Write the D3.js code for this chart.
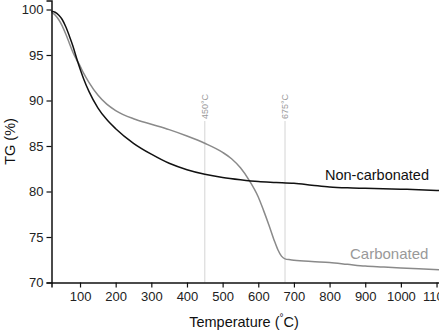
<!DOCTYPE html>
<html>
<head>
<meta charset="utf-8">
<script src="https://cdn.jsdelivr.net/npm/d3@7"></script>
<style>
	body { margin: 0; background: #fff; }
	svg { display: block; font-family: "Liberation Sans", Arial, sans-serif; }
</style>
</head>
<body>
<svg id="chart" width="439" height="332"></svg>
<script>
// temperatures (°C) and TG (%)
const nonCarbTemp = [20, 30, 40, 50, 60, 70, 80, 90, 100, 110, 125, 150, 175, 200, 250, 300, 350, 400, 450, 500, 550, 600, 650, 700, 750, 800, 850, 900, 950, 1000, 1050, 1110];
const nonCarbTG   = [99.8, 99.7, 99.4, 98.9, 98.1, 97.1, 96.0, 94.7, 93.5, 92.4, 91.0, 89.2, 87.9, 86.9, 85.3, 84.1, 83.1, 82.4, 81.9, 81.55, 81.3, 81.1, 81.0, 80.9, 80.7, 80.5, 80.4, 80.35, 80.3, 80.25, 80.2, 80.1];

const carbTemp = [20, 30, 40, 50, 60, 70, 80, 90, 100, 110, 125, 150, 175, 200, 250, 300, 350, 400, 450, 500, 525, 550, 575, 600, 615, 630, 645, 655, 665, 675, 690, 700, 750, 800, 850, 900, 950, 1000, 1050, 1110];
const carbTG   = [99.7, 99.4, 98.9, 98.2, 97.3, 96.3, 95.3, 94.5, 93.8, 93.0, 92.0, 90.6, 89.6, 88.9, 88.0, 87.4, 86.8, 86.1, 85.3, 84.3, 83.6, 82.6, 81.2, 79.4, 77.9, 76.3, 74.6, 73.6, 72.9, 72.6, 72.5, 72.45, 72.3, 72.2, 72.0, 71.8, 71.7, 71.6, 71.5, 71.4];

const markLines = [450, 675];
const xTicks = [100, 200, 300, 400, 500, 600, 700, 800, 900, 1000, 1100];
const yTicks = [70, 75, 80, 85, 90, 95, 100];

const svg = d3.select("#chart");

let x = d3.scaleLinear().domain([20, 1110]).range([51.5, 440.1]),
	y = d3.scaleLinear().domain([70, 101]).range([282.5, 0.4]);

// vertical marker lines with labels
markLines.forEach(t => {
	svg.append("line")
		.attr("x1", x(t)).attr("x2", x(t))
		.attr("y1", 121).attr("y2", y(70))
		.attr("stroke", "#d4d4d4")
		.attr("stroke-width", 1);

	svg.append("text")
		.attr("transform", "translate(" + (x(t) + 3) + ",119) rotate(-90)")
		.attr("font-size", "9px")
		.attr("fill", "#9a9a9a")
		.text(t + "°C");
});

let line = d3.line()
	.x(d => x(d[0]))
	.y(d => y(d[1]))
	.curve(d3.curveMonotoneX);

svg.append("path")
	.datum(carbTemp.map((t, i) => [t, carbTG[i]]))
	.attr("fill", "none")
	.attr("stroke", "#8a8a8a")
	.attr("stroke-width", 1.5)
	.attr("d", line);

svg.append("path")
	.datum(nonCarbTemp.map((t, i) => [t, nonCarbTG[i]]))
	.attr("fill", "none")
	.attr("stroke", "#111")
	.attr("stroke-width", 1.5)
	.attr("d", line);

// axes
let xAxis = svg.append("g").attr("transform", "translate(0," + y(70) + ")");
xAxis.call(d3.axisBottom(x).tickValues(d3.range(50, 1110, 50)).tickSize(3).tickFormat(""));
xAxis.call(d3.axisBottom(x).tickValues(xTicks).tickSize(5).tickPadding(4).tickFormat(d3.format("d")));

let yAxis = svg.append("g").attr("transform", "translate(" + x(20) + ",0)");
yAxis.call(d3.axisLeft(y).tickValues(d3.range(72.5, 101, 5)).tickSize(3).tickFormat(""));
yAxis.call(d3.axisLeft(y).tickValues(yTicks).tickSize(5).tickPadding(3));

svg.selectAll(".domain").attr("stroke", "#111").attr("stroke-width", 1.5);
svg.selectAll(".tick line").attr("stroke", "#111").attr("stroke-width", 1.2);
svg.selectAll(".tick text")
	.attr("font-family", "Liberation Sans, Arial, sans-serif")
	.attr("font-size", "13px")
	.attr("fill", "#222");

// series labels
svg.append("text")
	.attr("x", 325).attr("y", 180)
	.attr("font-size", "14.5px")
	.attr("fill", "#111")
	.text("Non-carbonated");

svg.append("text")
	.attr("x", 350).attr("y", 259)
	.attr("font-size", "15px")
	.attr("fill", "#999")
	.text("Carbonated");

// axis titles
let xt = svg.append("text")
	.attr("x", 244).attr("y", 327)
	.attr("text-anchor", "middle")
	.attr("font-size", "14.5px")
	.attr("fill", "#111");
xt.append("tspan").text("Temperature (");
xt.append("tspan").attr("font-size", "10px").attr("dy", -6).text("°");
xt.append("tspan").attr("dy", 6).text("C)");

svg.append("text")
	.attr("transform", "translate(15," + y(85.5) + ") rotate(-90)")
	.attr("text-anchor", "middle")
	.attr("font-size", "14.5px")
	.attr("fill", "#111")
	.text("TG (%)");
</script>
</body>
</html>
